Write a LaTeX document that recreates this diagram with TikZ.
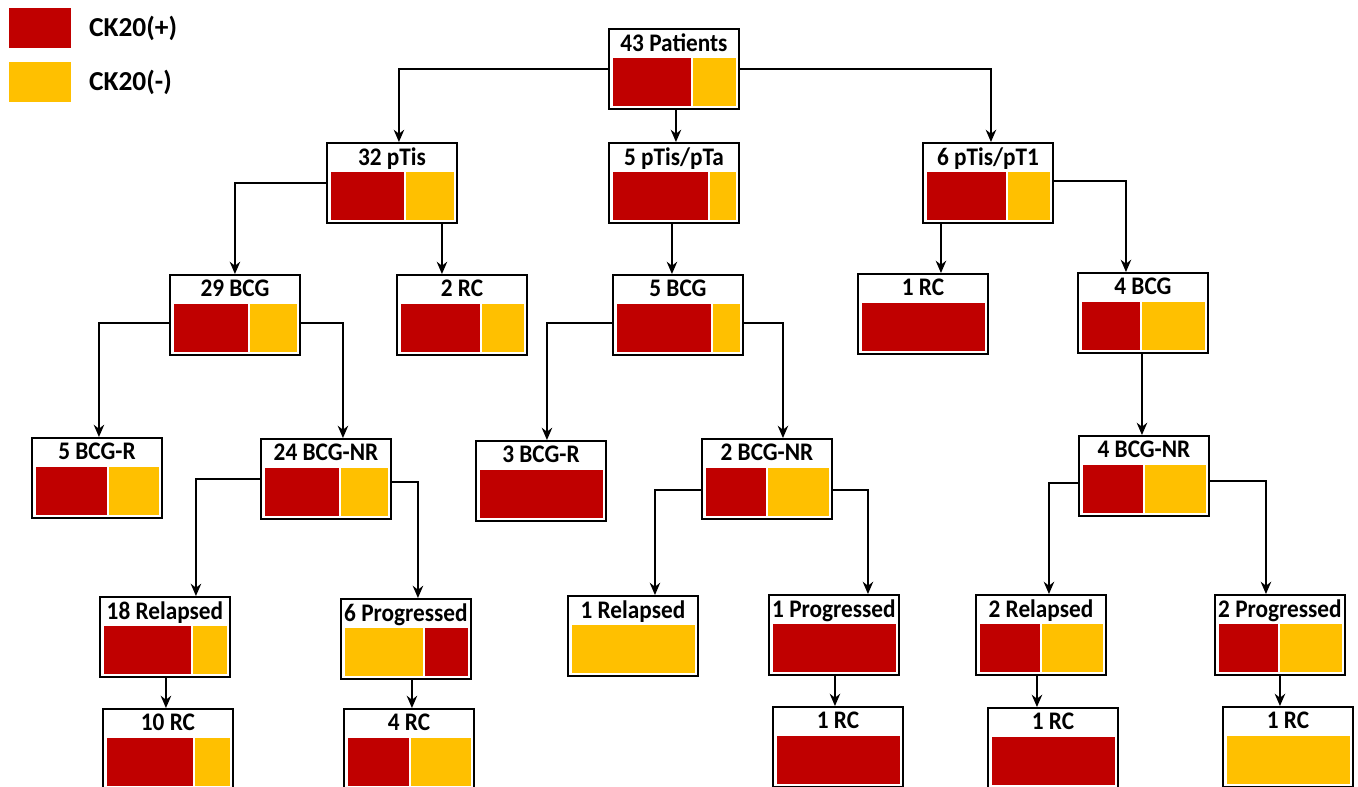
\documentclass[tikz,border=0pt]{standalone}
\usepackage{fontspec}
\setmainfont{Carlito}
\newfontfamily\ckfont[FakeStretch=0.92]{Carlito}
\usetikzlibrary{calc,arrows.meta}
\definecolor{ckpos}{HTML}{C00000}
\definecolor{ckneg}{HTML}{FFC000}
\tikzset{
  ckbox/.style={draw, line width=1.1pt, minimum width=2.6cm, minimum height=1.6cm, anchor=north west, inner sep=0pt},
  ckhead/.style={anchor=north, yshift=-2pt, inner sep=1pt, font=\ckfont\bfseries\fontsize{14.4}{16}\selectfont},
  cklegend/.style={anchor=west, inner sep=0pt, font=\bfseries\fontsize{15.6}{18}\selectfont},
  arr/.style={-{Stealth[length=7pt,width=6pt]}, line width=0.8pt},
}
% two colour bars in a box: node, first colour, first width (px), second colour
\newcommand{\cktwo}[4]{%
  \fill[#2] ($(#1.south west)+(5,-4)$) rectangle ($(#1.south west)+(5+#3,-52)$);
  \fill[#4] ($(#1.south west)+(7+#3,-4)$) rectangle ($(#1.south east)+(-4,-52)$);
}
% one colour bar in a box
\newcommand{\ckone}[2]{%
  \fill[#2] ($(#1.south west)+(5,-4)$) rectangle ($(#1.south east)+(-4,-52)$);
}
\begin{document}
\begin{tikzpicture}[x=0.02cm,y=-0.02cm]
	\useasboundingbox (0,0) rectangle (1358,787);
	\clip (0,0) rectangle (1358,787);
	% legend
	\node[fill=ckpos, minimum width=1.24cm, minimum height=0.8cm, anchor=north west, inner sep=0pt] (kpos) at (9,8) {};
	\node[fill=ckneg, minimum width=1.24cm, minimum height=0.8cm, anchor=north west, inner sep=0pt] (kneg) at (9,62) {};
	\node[cklegend] (tpos) at ($(kpos.east)+(17,0)$) {CK20(+)};
	\node[cklegend] (tneg) at ($(kneg.east)+(17,0)$) {CK20(-)};
	% boxes
	\node[ckbox, label={[ckhead]north:43 Patients}] (pat) at (608,28) {};
	\node[ckbox, label={[ckhead]north:32 pTis}] (tis) at (326,142) {};
	\node[ckbox, label={[ckhead]north:5 pTis/pTa}] (tista) at (608,142) {};
	\node[ckbox, label={[ckhead]north:6 pTis/pT1}] (tist1) at (922,142) {};
	\node[ckbox, label={[ckhead]north:29 BCG}] (bcgA) at (169,274) {};
	\node[ckbox, label={[ckhead]north:2 RC}] (rcA) at (396,274) {};
	\node[ckbox, label={[ckhead]north:5 BCG}] (bcgB) at (612,274) {};
	\node[ckbox, label={[ckhead]north:1 RC}] (rcC) at (857,273) {};
	\node[ckbox, label={[ckhead]north:4 BCG}] (bcgC) at (1077,272) {};
	\node[ckbox, label={[ckhead]north:5 BCG-R}] (rA) at (31,437) {};
	\node[ckbox, label={[ckhead]north:24 BCG-NR}] (nrA) at (260,438) {};
	\node[ckbox, label={[ckhead]north:3 BCG-R}] (rB) at (475,440) {};
	\node[ckbox, label={[ckhead]north:2 BCG-NR}] (nrB) at (701,438) {};
	\node[ckbox, label={[ckhead]north:4 BCG-NR}] (nrC) at (1078,435) {};
	\node[ckbox, label={[ckhead]north:18 Relapsed}] (relA) at (99,596) {};
	\node[ckbox, label={[ckhead]north:6 Progressed}] (proA) at (340,598) {};
	\node[ckbox, label={[ckhead]north:1 Relapsed}] (relB) at (567,595) {};
	\node[ckbox, label={[ckhead]north:1 Progressed}] (proB) at (768,594) {};
	\node[ckbox, label={[ckhead]north:2 Relapsed}] (relC) at (975,594) {};
	\node[ckbox, label={[ckhead]north:2 Progressed}] (proC) at (1214,594) {};
	\node[ckbox, label={[ckhead]north:10 RC}] (rcA1) at (102,708) {};
	\node[ckbox, label={[ckhead]north:4 RC}] (rcA2) at (343,708) {};
	\node[ckbox, label={[ckhead]north:1 RC}] (rcB) at (772,706) {};
	\node[ckbox, label={[ckhead]north:1 RC}] (rcC1) at (987,707) {};
	\node[ckbox, label={[ckhead]north:1 RC}] (rcC2) at (1222,706) {};
	% colour bars
	\cktwo{pat}{ckpos}{78}{ckneg}
	\cktwo{tis}{ckpos}{73}{ckneg}
	\cktwo{tista}{ckpos}{95}{ckneg}
	\cktwo{tist1}{ckpos}{79}{ckneg}
	\cktwo{bcgA}{ckpos}{74}{ckneg}
	\cktwo{rcA}{ckpos}{79}{ckneg}
	\cktwo{bcgB}{ckpos}{94}{ckneg}
	\ckone{rcC}{ckpos}
	\cktwo{bcgC}{ckpos}{58}{ckneg}
	\cktwo{rA}{ckpos}{71}{ckneg}
	\cktwo{nrA}{ckpos}{74}{ckneg}
	\ckone{rB}{ckpos}
	\cktwo{nrB}{ckpos}{60}{ckneg}
	\cktwo{nrC}{ckpos}{60}{ckneg}
	\cktwo{relA}{ckpos}{87}{ckneg}
	\cktwo{proA}{ckneg}{78}{ckpos}
	\ckone{relB}{ckneg}
	\ckone{proB}{ckpos}
	\cktwo{relC}{ckpos}{60}{ckneg}
	\cktwo{proC}{ckpos}{59}{ckneg}
	\cktwo{rcA1}{ckpos}{86}{ckneg}
	\cktwo{rcA2}{ckpos}{61}{ckneg}
	\ckone{rcB}{ckpos}
	\ckone{rcC1}{ckpos}
	\ckone{rcC2}{ckneg}
	% arrival points
	\coordinate (tisin) at ($(tis.north)+(7,0)$);
	\coordinate (tistain) at ($(tista.north)+(2,0)$);
	\coordinate (tist1in) at ($(tist1.north)+(3,0)$);
	\coordinate (rcAin) at ($(rcA.north)+(-20,0)$);
	\coordinate (bcgBin) at ($(bcgB.north)+(-6,0)$);
	\coordinate (rcCin) at ($(rcC.north)+(18,0)$);
	\coordinate (bcgCin) at ($(bcgC.north)+(-17,0)$);
	\coordinate (rAin) at ($(rA.north)+(2,0)$);
	\coordinate (nrAin) at ($(nrA.north)+(17,0)$);
	\coordinate (rBin) at ($(rB.north)+(6,0)$);
	\coordinate (nrBin) at ($(nrB.north)+(16,0)$);
	\coordinate (nrCin) at ($(nrC.north)+(-2,0)$);
	\coordinate (relAin) at ($(relA.north)+(31,0)$);
	\coordinate (proAin) at ($(proA.north)+(12,0)$);
	\coordinate (relBin) at ($(relB.north)+(22,0)$);
	\coordinate (proBin) at ($(proB.north)+(34,0)$);
	\coordinate (relCin) at ($(relC.north)+(8,0)$);
	\coordinate (proCin) at ($(proC.north)+(-14,0)$);
	\coordinate (rcA1in) at ($(rcA1.north)+(-2,0)$);
	\coordinate (rcA2in) at ($(rcA2.north)+(3,0)$);
	\coordinate (rcBin) at ($(rcB.north)+(-3,0)$);
	\coordinate (rcC1in) at ($(rcC1.north)+(-16,0)$);
	\coordinate (rcC2in) at ($(rcC2.north)+(-8,0)$);
	% connectors
	\draw[arr] (pat.west) -| (tisin);
	\draw[arr] (pat.south -| tistain) -- (tistain);
	\draw[arr] (pat.east) -| (tist1in);
	\draw[arr] (tis.west) -| (bcgA.north);
	\draw[arr] (tis.south -| rcAin) -- (rcAin);
	\draw[arr] (tista.south -| bcgBin) -- (bcgBin);
	\draw[arr] (tist1.south -| rcCin) -- (rcCin);
	\draw[arr] ($(tist1.east)+(0,-2)$) -| (bcgCin);
	\draw[arr] ($(bcgA.west)+(0,8)$) -| (rAin);
	\draw[arr] ($(bcgA.east)+(0,8)$) -| (nrAin);
	\draw[arr] ($(bcgB.west)+(0,8)$) -| (rBin);
	\draw[arr] ($(bcgB.east)+(0,8)$) -| (nrBin);
	\draw[arr] (bcgC.south -| nrCin) -- (nrCin);
	\draw[arr] (nrA.west) -| (relAin);
	\draw[arr] ($(nrA.east)+(0,3)$) -| (proAin);
	\draw[arr] ($(nrB.west)+(0,11)$) -| (relBin);
	\draw[arr] ($(nrB.east)+(0,11)$) -| (proBin);
	\draw[arr] ($(nrC.west)+(0,7)$) -| (relCin);
	\draw[arr] ($(nrC.east)+(0,5)$) -| (proCin);
	\draw[arr] (relA.south -| rcA1in) -- (rcA1in);
	\draw[arr] (proA.south -| rcA2in) -- (rcA2in);
	\draw[arr] (proB.south -| rcBin) -- (rcBin);
	\draw[arr] (relC.south -| rcC1in) -- (rcC1in);
	\draw[arr] (proC.south -| rcC2in) -- (rcC2in);
\end{tikzpicture}
\end{document}
